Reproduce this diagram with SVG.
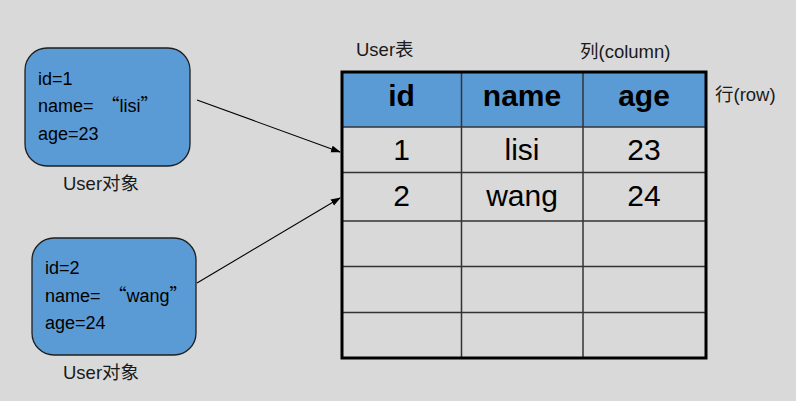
<svg xmlns="http://www.w3.org/2000/svg" width="796" height="401" viewBox="0 0 796 401">
<defs>
<marker id="ah" markerWidth="10" markerHeight="8" refX="9" refY="4" orient="auto" markerUnits="userSpaceOnUse">
<path d="M0,0.5 L10,4 L0,7.5 Z" fill="#000"/>
</marker>
<style>
.box{fill:#5b9bd5;stroke:#1f1f1f;stroke-width:1.3}
.bt{font-family:"Liberation Sans","Noto Sans CJK SC",sans-serif;font-size:18px;fill:#000}
.q{font-family:"Noto Sans CJK SC",sans-serif}
.lb{font-family:"Liberation Sans","Noto Sans CJK SC",sans-serif;font-size:18.5px;fill:#1a1a1a}
.th{font-family:"Liberation Sans",Arial,sans-serif;font-size:30px;font-weight:bold;fill:#000;text-anchor:middle}
.td{font-family:"Liberation Sans",Arial,sans-serif;font-size:30px;fill:#000;text-anchor:middle}
.grid{stroke:#333;stroke-width:1.5;fill:none}
.conn{stroke:#000;stroke-width:1.1;fill:none}
</style>
</defs>
<rect width="796" height="401" fill="#d9d9d9"/>

<g id="user1">
<rect class="box" x="25" y="48" width="165" height="118" rx="22"/>
<text class="bt" x="38" y="85">id=1</text>
<text class="bt" x="38" y="112">name=<tspan class="q" dx="8">“</tspan>lisi<tspan class="q">”</tspan></text>
<text class="bt" x="38" y="140">age=23</text>
</g>
<text id="label-user1" class="lb" x="63" y="190">User对象</text>

<g id="user2">
<rect class="box" x="32" y="238" width="164" height="117" rx="22"/>
<text class="bt" x="45" y="274">id=2</text>
<text class="bt" x="45" y="302">name=<tspan class="q" dx="8">“</tspan>wang<tspan class="q">”</tspan></text>
<text class="bt" x="45" y="329">age=24</text>
</g>
<text id="label-user2" class="lb" x="63" y="379">User对象</text>

<g id="table">
<rect x="342" y="72" width="364" height="55" fill="#5b9bd5"/>
<line class="grid" x1="342" y1="127" x2="706" y2="127"/>
<line class="grid" x1="342" y1="172.5" x2="706" y2="172.5"/>
<line class="grid" x1="342" y1="221" x2="706" y2="221"/>
<line class="grid" x1="342" y1="266.5" x2="706" y2="266.5"/>
<line class="grid" x1="342" y1="312.5" x2="706" y2="312.5"/>
<line class="grid" x1="461.5" y1="72" x2="461.5" y2="358"/>
<line class="grid" x1="583" y1="72" x2="583" y2="358"/>
<rect x="342" y="72" width="364" height="286" fill="none" stroke="#000" stroke-width="3"/>
<text class="th" x="401.5" y="106">id</text>
<text class="th" x="522" y="106">name</text>
<text class="th" x="644" y="106">age</text>
<text class="td" x="401.5" y="160">1</text>
<text class="td" x="522" y="160">lisi</text>
<text class="td" x="644" y="160">23</text>
<text class="td" x="401.5" y="206">2</text>
<text class="td" x="522" y="206">wang</text>
<text class="td" x="644" y="206">24</text>
</g>
<text id="label-table" class="lb" x="356" y="56">User表</text>
<text id="label-column" class="lb" x="580" y="58">列(column)</text>
<text id="label-row" class="lb" x="715" y="101">行(row)</text>

<g id="connectors">
<line class="conn" x1="197" y1="100" x2="340" y2="152" marker-end="url(#ah)"/>
<line class="conn" x1="197" y1="283" x2="340" y2="198" marker-end="url(#ah)"/>
</g>
</svg>
